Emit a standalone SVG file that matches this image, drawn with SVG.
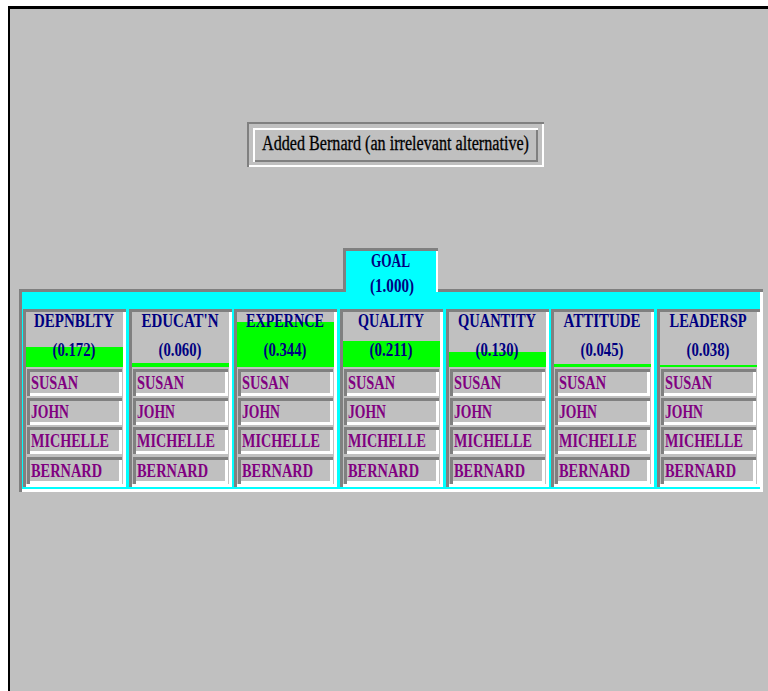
<svg xmlns="http://www.w3.org/2000/svg" width="768" height="691" viewBox="0 0 768 691">
  <style>
    .dk { fill: #808080; }
    .lt { fill: #ffffff; }
    .bg { fill: #c0c0c0; }
    .cy { fill: #00ffff; }
    .gr { fill: #00ff00; }
    .hd { font-family: "Liberation Serif", "Times New Roman", serif; font-weight: bold; font-size: 18px; fill: #000080; text-anchor: middle; }
    .nm { font-family: "Liberation Serif", "Times New Roman", serif; font-weight: bold; font-size: 19px; fill: #800080; }
    .tt { font-family: "Liberation Serif", "Times New Roman", serif; font-size: 20px; fill: #000000; }
  </style>
  <defs>
    <g id="colbox">
      <rect class="bg" x="0" y="0" width="103" height="178"/>
      <rect class="dk" x="0" y="0" width="103" height="3"/>
      <rect class="dk" x="0" y="0" width="3" height="178"/>
      <rect class="lt" x="100" y="3" width="3" height="175"/>
      <rect class="lt" x="3" y="175" width="100" height="3"/>
    </g>
    <g id="rowbox">
      <rect class="bg" x="0" y="0" width="95" height="27"/>
      <rect class="dk" x="0" y="0" width="95" height="3"/>
      <rect class="dk" x="0" y="0" width="3" height="27"/>
      <rect class="lt" x="92" y="3" width="3" height="24"/>
      <rect class="lt" x="3" y="24" width="92" height="3"/>
    </g>
  </defs>

  <!-- page -->
  <rect x="0" y="0" width="768" height="691" fill="#ffffff"/>
  <rect x="8" y="6" width="760" height="685" fill="#000000"/>
  <rect class="bg" x="10" y="9" width="758" height="682"/>

  <!-- title -->
  <g id="title">
    <rect class="bg" x="247" y="122" width="297" height="45"/>
    <rect class="dk" x="247" y="122" width="297" height="2"/>
    <rect class="dk" x="247" y="122" width="2" height="45"/>
    <rect class="lt" x="542" y="124" width="2" height="43"/>
    <rect class="lt" x="249" y="165" width="295" height="2"/>
    <rect class="lt" x="253" y="128" width="285" height="2"/>
    <rect class="lt" x="253" y="128" width="2" height="34"/>
    <rect class="dk" x="536" y="130" width="2" height="32"/>
    <rect class="dk" x="255" y="160" width="283" height="2"/>
    <text class="tt" x="262" y="150" textLength="267" lengthAdjust="spacingAndGlyphs" stroke="#000000" stroke-width="0.3">Added Bernard (an irrelevant alternative)</text>
  </g>

  <!-- panel -->
  <g id="panel">
    <rect class="cy" x="19" y="289" width="744" height="203"/>
    <rect class="lt" x="760" y="289" width="3" height="203"/>
    <rect class="lt" x="19" y="489" width="744" height="3"/>
    <rect class="dk" x="19" y="289" width="327" height="3"/>
    <rect class="dk" x="436" y="289" width="327" height="3"/>
    <rect class="dk" x="19" y="289" width="3" height="203"/>
  </g>

  <!-- goal -->
  <g id="goal">
    <rect class="cy" x="343" y="248" width="95" height="44"/>
    <rect class="dk" x="343" y="248" width="95" height="3"/>
    <rect class="dk" x="343" y="248" width="3" height="44"/>
    <rect class="lt" x="436" y="251" width="2" height="41"/>
    <text class="hd" x="390.5" y="266.5" textLength="39" lengthAdjust="spacingAndGlyphs">GOAL</text>
    <text class="hd" x="392" y="291.5" textLength="44" lengthAdjust="spacingAndGlyphs">(1.000)</text>
  </g>

  <g id="connectors"></g>

  <!-- criteria columns -->
  <g id="col-depnblty" transform="translate(23,309)">
    <use href="#colbox"/>
    <rect class="gr" x="3" y="38" width="97" height="20"/>
    <text class="hd" x="51" y="18" textLength="80" lengthAdjust="spacingAndGlyphs">DEPNBLTY</text>
    <text class="hd" x="51" y="47" textLength="43" lengthAdjust="spacingAndGlyphs">(0.172)</text>
    <use href="#rowbox" x="4" y="60"/><use href="#rowbox" x="4" y="89"/><use href="#rowbox" x="4" y="118"/><use href="#rowbox" x="4" y="148"/>
    <text class="nm" x="8" y="80" textLength="47" lengthAdjust="spacingAndGlyphs">SUSAN</text>
    <text class="nm" x="8" y="109" textLength="38" lengthAdjust="spacingAndGlyphs">JOHN</text>
    <text class="nm" x="8" y="138" textLength="78" lengthAdjust="spacingAndGlyphs">MICHELLE</text>
    <text class="nm" x="8" y="167.5" textLength="71" lengthAdjust="spacingAndGlyphs">BERNARD</text>
  </g>
  <g id="col-educatn" transform="translate(129,309)">
    <use href="#colbox"/>
    <rect class="gr" x="3" y="54" width="97" height="4"/>
    <text class="hd" x="51" y="18" textLength="77" lengthAdjust="spacingAndGlyphs">EDUCAT'N</text>
    <text class="hd" x="51" y="47" textLength="43" lengthAdjust="spacingAndGlyphs">(0.060)</text>
    <use href="#rowbox" x="4" y="60"/><use href="#rowbox" x="4" y="89"/><use href="#rowbox" x="4" y="118"/><use href="#rowbox" x="4" y="148"/>
    <text class="nm" x="8" y="80" textLength="47" lengthAdjust="spacingAndGlyphs">SUSAN</text>
    <text class="nm" x="8" y="109" textLength="38" lengthAdjust="spacingAndGlyphs">JOHN</text>
    <text class="nm" x="8" y="138" textLength="78" lengthAdjust="spacingAndGlyphs">MICHELLE</text>
    <text class="nm" x="8" y="167.5" textLength="71" lengthAdjust="spacingAndGlyphs">BERNARD</text>
  </g>
  <g id="col-expernce" transform="translate(234,309)">
    <use href="#colbox"/>
    <rect class="gr" x="3" y="13" width="97" height="45"/>
    <text class="hd" x="51" y="18" textLength="78" lengthAdjust="spacingAndGlyphs">EXPERNCE</text>
    <text class="hd" x="51" y="47" textLength="43" lengthAdjust="spacingAndGlyphs">(0.344)</text>
    <use href="#rowbox" x="4" y="60"/><use href="#rowbox" x="4" y="89"/><use href="#rowbox" x="4" y="118"/><use href="#rowbox" x="4" y="148"/>
    <text class="nm" x="8" y="80" textLength="47" lengthAdjust="spacingAndGlyphs">SUSAN</text>
    <text class="nm" x="8" y="109" textLength="38" lengthAdjust="spacingAndGlyphs">JOHN</text>
    <text class="nm" x="8" y="138" textLength="78" lengthAdjust="spacingAndGlyphs">MICHELLE</text>
    <text class="nm" x="8" y="167.5" textLength="71" lengthAdjust="spacingAndGlyphs">BERNARD</text>
  </g>
  <g id="col-quality" transform="translate(340,309)">
    <use href="#colbox"/>
    <rect class="gr" x="3" y="32" width="97" height="26"/>
    <text class="hd" x="51" y="18" textLength="66" lengthAdjust="spacingAndGlyphs">QUALITY</text>
    <text class="hd" x="51" y="47" textLength="43" lengthAdjust="spacingAndGlyphs">(0.211)</text>
    <use href="#rowbox" x="4" y="60"/><use href="#rowbox" x="4" y="89"/><use href="#rowbox" x="4" y="118"/><use href="#rowbox" x="4" y="148"/>
    <text class="nm" x="8" y="80" textLength="47" lengthAdjust="spacingAndGlyphs">SUSAN</text>
    <text class="nm" x="8" y="109" textLength="38" lengthAdjust="spacingAndGlyphs">JOHN</text>
    <text class="nm" x="8" y="138" textLength="78" lengthAdjust="spacingAndGlyphs">MICHELLE</text>
    <text class="nm" x="8" y="167.5" textLength="71" lengthAdjust="spacingAndGlyphs">BERNARD</text>
  </g>
  <g id="col-quantity" transform="translate(446,309)">
    <use href="#colbox"/>
    <rect class="gr" x="3" y="43" width="97" height="15"/>
    <text class="hd" x="51" y="18" textLength="78" lengthAdjust="spacingAndGlyphs">QUANTITY</text>
    <text class="hd" x="51" y="47" textLength="43" lengthAdjust="spacingAndGlyphs">(0.130)</text>
    <use href="#rowbox" x="4" y="60"/><use href="#rowbox" x="4" y="89"/><use href="#rowbox" x="4" y="118"/><use href="#rowbox" x="4" y="148"/>
    <text class="nm" x="8" y="80" textLength="47" lengthAdjust="spacingAndGlyphs">SUSAN</text>
    <text class="nm" x="8" y="109" textLength="38" lengthAdjust="spacingAndGlyphs">JOHN</text>
    <text class="nm" x="8" y="138" textLength="78" lengthAdjust="spacingAndGlyphs">MICHELLE</text>
    <text class="nm" x="8" y="167.5" textLength="71" lengthAdjust="spacingAndGlyphs">BERNARD</text>
  </g>
  <g id="col-attitude" transform="translate(551,309)">
    <use href="#colbox"/>
    <rect class="gr" x="3" y="55" width="97" height="3"/>
    <text class="hd" x="51" y="18" textLength="77" lengthAdjust="spacingAndGlyphs">ATTITUDE</text>
    <text class="hd" x="51" y="47" textLength="43" lengthAdjust="spacingAndGlyphs">(0.045)</text>
    <use href="#rowbox" x="4" y="60"/><use href="#rowbox" x="4" y="89"/><use href="#rowbox" x="4" y="118"/><use href="#rowbox" x="4" y="148"/>
    <text class="nm" x="8" y="80" textLength="47" lengthAdjust="spacingAndGlyphs">SUSAN</text>
    <text class="nm" x="8" y="109" textLength="38" lengthAdjust="spacingAndGlyphs">JOHN</text>
    <text class="nm" x="8" y="138" textLength="78" lengthAdjust="spacingAndGlyphs">MICHELLE</text>
    <text class="nm" x="8" y="167.5" textLength="71" lengthAdjust="spacingAndGlyphs">BERNARD</text>
  </g>
  <g id="col-leadersp" transform="translate(657,309)">
    <use href="#colbox"/>
    <rect class="gr" x="3" y="56" width="97" height="2"/>
    <text class="hd" x="51" y="18" textLength="77" lengthAdjust="spacingAndGlyphs">LEADERSP</text>
    <text class="hd" x="51" y="47" textLength="43" lengthAdjust="spacingAndGlyphs">(0.038)</text>
    <use href="#rowbox" x="4" y="60"/><use href="#rowbox" x="4" y="89"/><use href="#rowbox" x="4" y="118"/><use href="#rowbox" x="4" y="148"/>
    <text class="nm" x="8" y="80" textLength="47" lengthAdjust="spacingAndGlyphs">SUSAN</text>
    <text class="nm" x="8" y="109" textLength="38" lengthAdjust="spacingAndGlyphs">JOHN</text>
    <text class="nm" x="8" y="138" textLength="78" lengthAdjust="spacingAndGlyphs">MICHELLE</text>
    <text class="nm" x="8" y="167.5" textLength="71" lengthAdjust="spacingAndGlyphs">BERNARD</text>
  </g>
</svg>
